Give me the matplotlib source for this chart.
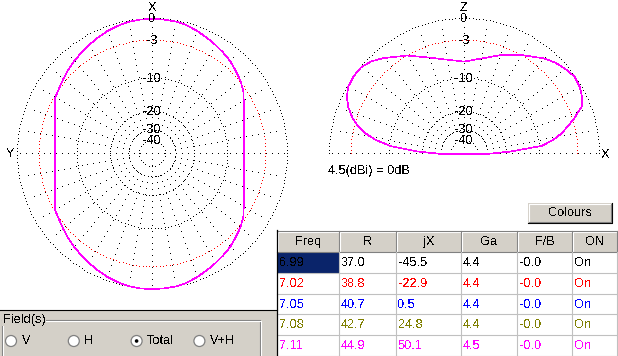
import numpy as np
import matplotlib
matplotlib.use("Agg")
import matplotlib.pyplot as plt
from matplotlib.patches import Rectangle, Circle

plt.rcParams["font.family"] = ["Liberation Sans", "DejaVu Sans"]
plt.rcParams["text.antialiased"] = False

# ---- values ----
freq = [6.99, 7.02, 7.05, 7.08, 7.11]
res = [37.0, 38.8, 40.7, 42.7, 44.9]
reac = [-45.5, -22.9, 0.5, 24.8, 50.1]
ga = [4.4, 4.4, 4.4, 4.4, 4.5]
fb = [-0.0, -0.0, -0.0, -0.0, -0.0]
state = ["On", "On", "On", "On", "On"]
colors = ["#000000", "#FF0000", "#0000FF", "#808000", "#FF00FF"]
columns = ["Freq", "R", "jX", "Ga", "F/B", "ON"]
fields = ["V", "H", "Total", "V+H"]
field_sel = "Total"
ref_dbi = 4.5

ring_db = [0, -3, -10, -20, -30, -40]

# horizontal pattern, dB rel. max, degrees from +X round each side (5 deg steps)
az_deg = list(range(0, 185, 5))
az_left = [0, 0, -0.1, -0.3, -0.55, -0.87, -1.2, -1.53, -1.85, -2.2,
           -2.6, -2.95, -3.2, -3.97, -4.6, -5.03, -5.4, -5.56, -5.66,
           -5.56, -5.4, -5.03, -4.6, -3.97, -3.2, -2.95, -2.6, -2.2,
           -1.85, -1.53, -1.2, -0.87, -0.55, -0.3, -0.1, 0, 0]
az_right = [0, 0, -0.05, -0.2, -0.5, -0.82, -1.15, -1.47, -1.8, -2.28,
            -2.75, -3.3, -4.16, -4.89, -5.55, -5.99, -6.36, -6.52, -6.62,
            -6.52, -6.36, -5.99, -5.55, -4.89, -4.16, -3.3, -2.75, -2.28,
            -1.8, -1.47, -1.15, -0.82, -0.5, -0.2, -0.05, 0, 0]

# vertical pattern, dB rel. max, elevation from each horizon
el_deg = [0, 3, 6, 9, 12, 15, 18, 22, 26, 30, 35, 40, 45, 50, 60, 70, 80, 90]
el_left = [-31, -18.5, -10.6, -7.1, -4.9, -3.45, -2.4, -1.35, -0.6, -0.15,
           0, -0.05, -0.5, -1.3, -2.95, -4.7, -5.9, -6.5]
el_right = [-31, -18.3, -9.3, -6.9, -5.15, -3.9, -2.6, -1.05, -0.5, -0.15,
            0, -0.35, -0.75, -1.35, -2.85, -4.3, -5.7, -6.5]

W, H = 618, 356
R0 = 135  # pixels of the 0 dB ring
GRAY = "#D4D0C8"
DARK = "#808080"
NAVY = "#0A246A"
GRID = "#C0C0C0"
FS = 9.2

fig = plt.figure(figsize=(W / 100, H / 100), dpi=100)


def arrl(db):
    # ARRL log scale used by the program
    return 0.89 ** (-np.asarray(db, dtype=float) / 2)


def pattern_axes(cx, cy, half=150):
    ax = fig.add_axes([(cx - half) / W, 1 - (cy + half) / H, 2 * half / W, 2 * half / H])
    lim = half / R0
    ax.set_xlim(-lim, lim)
    ax.set_ylim(-lim, lim)
    ax.set_axis_off()
    return ax


def dots(ax, x, y, color="black"):
    ax.plot(x, y, ls="none", marker=",", color=color)


def grid(ax, full):
    span = 2 * np.pi if full else np.pi
    for db in ring_db:
        r = arrl(db)
        n = int(span * r * R0 / 3.4)
        t = np.linspace(0, span, n, endpoint=not full)
        dots(ax, r * np.cos(t), r * np.sin(t), "#FF0000" if db == -3 else "black")
    r_in, r_out = arrl(-30), 0.96
    for a in range(0, 360 if full else 190, 10):
        c, s = np.cos(np.radians(a)), np.sin(np.radians(a))
        lo = 0 if a % 90 == 0 else r_in
        hi = 1.0 if a % 90 == 0 else r_out
        rr = np.arange(lo, hi, 6.0 / R0)
        dots(ax, rr * c, rr * s)
    for db in ring_db:
        ax.text(0, arrl(db), str(db), ha="center", va="center", fontsize=FS)


def trace(ax, x, y, col):
    ax.plot(np.append(x, x[0]), np.append(y, y[0]), color=col, lw=0.45,
            antialiased=False)


# ---- horizontal (X-Y) pattern ----
ax1 = pattern_axes(152, 154)
grid(ax1, True)
th = np.radians(az_deg)
rl, rr = arrl(az_left), arrl(az_right)
ax_x = np.concatenate([-rl * np.sin(th), (rr * np.sin(th))[::-1]])
ax_y = np.concatenate([rl * np.cos(th), (rr * np.cos(th))[::-1]])
for col in colors:
    trace(ax1, ax_x, ax_y, col)
ax1.text(0, 1.08, "X", ha="center", va="center", fontsize=FS)
ax1.text(-1.05, 0, "Y", ha="center", va="center", fontsize=FS)

# ---- vertical (X-Z) pattern ----
ax2 = pattern_axes(464, 154)
grid(ax2, False)
ev = np.radians(el_deg)
rl, rr = arrl(el_left), arrl(el_right)
el_x = np.concatenate([-rl * np.cos(ev), (rr * np.cos(ev))[::-1]])
el_y = np.concatenate([rl * np.sin(ev), (rr * np.sin(ev))[::-1]])
for col in colors:
    trace(ax2, el_x, el_y, col)
ax2.text(0, 1.08, "Z", ha="center", va="center", fontsize=FS)
ax2.text(1.045, -0.01, "X", ha="center", va="center", fontsize=FS)

# ---- dialog parts, in screen pixels ----
ui = fig.add_axes([0, 0, 1, 1], zorder=5)
ui.set_xlim(0, W)
ui.set_ylim(H, 0)
ui.set_axis_off()
ui.patch.set_visible(False)

ui.text(328, 171, "%.1f(dBi) = 0dB" % ref_dbi, ha="left", va="center", fontsize=FS)

# field selector panel
ui.add_patch(Rectangle((0, 309.5), 277, 47, fc=GRAY, ec="none"))
ui.plot([0, 277], [309.5, 309.5], color="black", lw=0.8)
ui.plot([1.5, 259.5, 259.5], [319.5, 319.5, 357], color=DARK, lw=0.8)
ui.plot([2.5, 260.5, 260.5], [320.5, 320.5, 357], color="white", lw=0.8)
ui.plot([1.5, 1.5], [319.5, 357], color=DARK, lw=0.8)
ui.plot([2.5, 2.5], [320.5, 357], color="white", lw=0.8)
ui.text(3, 319.5, "Field(s)", ha="left", va="center", fontsize=FS,
        bbox=dict(fc=GRAY, ec="none", pad=0.5))
for i, name in enumerate(fields):
    x = 11 + i * 62.8
    ui.add_patch(Circle((x, 341), 5.5, fc="white", ec=DARK, lw=0.9))
    if name == field_sel:
        ui.add_patch(Circle((x, 341), 1.8, fc="black", ec="none"))
    ui.text(x + 10.5, 341.5, name, ha="left", va="center", fontsize=FS)

# Colours button
ui.add_patch(Rectangle((528, 203), 84, 20, fc=GRAY, ec="none"))
ui.plot([528.5, 528.5, 611.5], [222.5, 203.5, 203.5], color="white", lw=0.8)
ui.plot([528, 611.5, 611.5], [222.5, 222.5, 203], color="black", lw=0.8)
ui.plot([529, 610.5, 610.5], [221.5, 221.5, 204], color=DARK, lw=0.8)
ui.text(570, 213, "Colours", ha="center", va="center", fontsize=FS)

# results table
edges = [277, 339, 396, 461, 517, 572, 617]
top, hh, rh = 231, 21, 20.8
ui.add_patch(Rectangle((277, top), W - 277, H - top, fc="white", ec="none"))
for j, name in enumerate(columns):
    x0, x1 = edges[j], edges[j + 1]
    ui.add_patch(Rectangle((x0, top), x1 - x0, hh, fc=GRAY, ec="none"))
    ui.plot([x0 + 0.5, x0 + 0.5, x1 - 0.5], [top + hh - 0.5, top + 0.5, top + 0.5],
            color="white", lw=0.8)
    ui.plot([x0, x1 - 0.5, x1 - 0.5], [top + hh - 0.5, top + hh - 0.5, top],
            color=DARK, lw=0.8)
    ui.text((x0 + x1) / 2, top + hh / 2 + 0.5, name, ha="center", va="center", fontsize=FS)

rows = list(zip(["%.2f" % f for f in freq], ["%.1f" % v for v in res],
                ["%.1f" % v for v in reac], ["%.1f" % v for v in ga],
                ["%.1f" % v for v in fb], state))
y0 = top + hh
ui.add_patch(Rectangle((edges[0] + 1, y0), edges[1] - edges[0] - 1, rh, fc=NAVY, ec="none"))
for i, row in enumerate(rows):
    yb = y0 + (i + 1) * rh
    ui.plot([edges[0], W], [yb, yb], color=GRID, lw=0.8)
    for j, val in enumerate(row):
        ui.text(edges[j] + 2, y0 + i * rh + rh / 2 + 0.5, val, ha="left", va="center",
                fontsize=FS, color=colors[i])
for x in edges[1:]:
    ui.plot([x - 0.5, x - 0.5], [y0, H], color=GRID, lw=0.8)
ui.plot([edges[0], W], [top, top], color=DARK, lw=0.8)
ui.plot([edges[0], edges[0]], [top - 1, H], color="black", lw=0.9)

fig.savefig("out.png", dpi=100, facecolor="white")
